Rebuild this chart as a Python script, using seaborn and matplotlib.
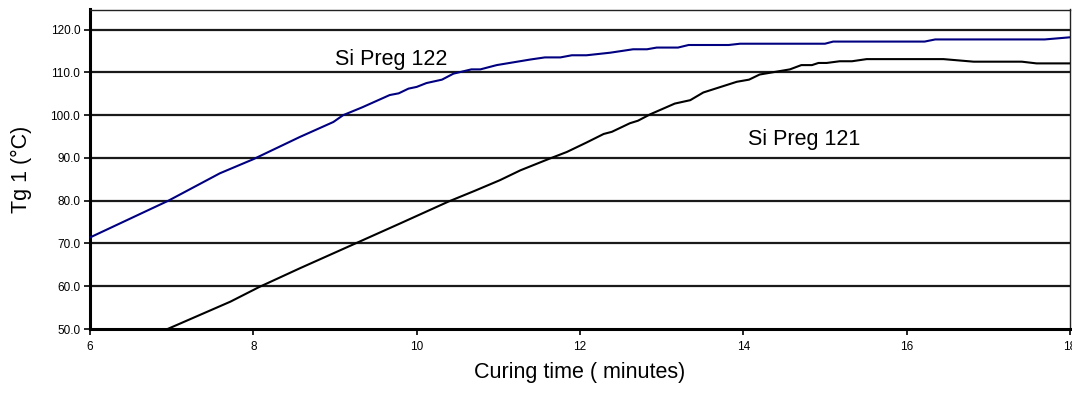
import numpy as np
import pandas as pd
import matplotlib
matplotlib.use("Agg")
import matplotlib.pyplot as plt
import seaborn as sns

# Data
x_122 = [6.0, 6.96, 7.59, 8.0, 8.57, 8.98, 9.10, 9.33, 9.67, 9.78, 9.90, 10.0, 10.12,
         10.31, 10.45, 10.67, 10.78, 10.98, 11.39, 11.57, 11.76, 11.90, 12.08, 12.37,
         12.65, 12.82, 12.94, 13.20, 13.33, 13.82, 13.96, 15.0, 15.10, 16.22, 16.35,
         17.69, 18.0]
y_122 = [71.4, 80.0, 86.4, 89.7, 94.9, 98.4, 100.0, 101.8, 104.7, 105.1, 106.2, 106.6, 107.5,
         108.3, 109.7, 110.7, 110.7, 111.7, 113.0, 113.5, 113.5, 114.0, 114.0, 114.6,
         115.4, 115.4, 115.8, 115.8, 116.4, 116.4, 116.7, 116.7, 117.2, 117.2, 117.7,
         117.7, 118.2]

x_121 = [6.95, 7.72, 8.07, 8.57, 9.25, 9.80, 10.39, 10.71, 11.02, 11.27, 11.61, 11.84,
         12.08, 12.29, 12.39, 12.61, 12.71, 12.86, 13.16, 13.35, 13.51, 13.92, 14.07,
         14.20, 14.57, 14.71, 14.84, 14.92, 15.02, 15.18, 15.33, 15.51, 16.45, 16.82,
         17.41, 17.59, 18.0]
y_121 = [50.0, 56.4, 59.8, 64.2, 70.0, 74.7, 79.8, 82.3, 84.8, 87.1, 89.7, 91.4,
         93.6, 95.6, 96.1, 98.1, 98.7, 100.2, 102.7, 103.5, 105.3, 107.8, 108.3,
         109.5, 110.7, 111.7, 111.7, 112.2, 112.2, 112.6, 112.6, 113.1, 113.1, 112.5,
         112.5, 112.1, 112.1]

series_names = ["Si Preg 122", "Si Preg 121"]
x_ticks = [6, 8, 10, 12, 14, 16, 18]
y_ticks = [50, 60, 70, 80, 90, 100, 110, 120]

df = pd.concat([
    pd.DataFrame({"time": x_122, "tg": y_122, "series": series_names[0]}),
    pd.DataFrame({"time": x_121, "tg": y_121, "series": series_names[1]}),
])

sns.set_style("white")
plt.rcParams["font.family"] = ["Liberation Sans", "DejaVu Sans"]
plt.rcParams["text.color"] = "black"
plt.rcParams["axes.labelcolor"] = "black"
plt.rcParams["xtick.color"] = "black"
plt.rcParams["ytick.color"] = "black"

fig = plt.figure(figsize=(10.72, 3.94), dpi=100)
ax = fig.add_axes([90 / 1072, 1 - 329 / 394, (1070 - 90) / 1072, (329 - 9.5) / 394])

for yv in y_ticks[1:]:
    ax.axhline(yv, color="#1a1a1a", lw=1.6, zorder=1)

sns.lineplot(data=df, x="time", y="tg", hue="series",
             palette={series_names[0]: "#000080", series_names[1]: "#000000"},
             lw=1.5, legend=False, ax=ax, zorder=3, sort=False, estimator=None)

ax.set_xlim(6, 18)
ax.set_ylim(50, 124.7)
ax.set_xticks(x_ticks)
ax.set_xticklabels([str(t) for t in x_ticks], fontsize=8.5)
ax.set_yticks(y_ticks)
ax.set_yticklabels([f"{t:.1f}" for t in y_ticks], fontsize=8.5)
ax.tick_params(axis="both", direction="out", length=4, width=1.2, color="black",
               labelcolor="black", left=True, bottom=True, pad=3)
ax.tick_params(axis="x", pad=5)

for side in ["left", "bottom"]:
    ax.spines[side].set_linewidth(2.2)
    ax.spines[side].set_color("black")
for side in ["top", "right"]:
    ax.spines[side].set_linewidth(1.0)
    ax.spines[side].set_color("#222222")
    ax.spines[side].set_visible(True)

ax.set_xlabel("Curing time ( minutes)", fontsize=15.5, labelpad=6, color="black")
ax.set_ylabel("Tg 1 (°C)", fontsize=15.5, labelpad=13, color="black")

ax.text(9.69, 112.9, series_names[0], fontsize=15.5, ha="center", va="center",
        color="black", zorder=4)
ax.text(14.75, 94.2, series_names[1], fontsize=15.5, ha="center", va="center",
        color="black", zorder=4)

fig.savefig("out.png", dpi=100)
